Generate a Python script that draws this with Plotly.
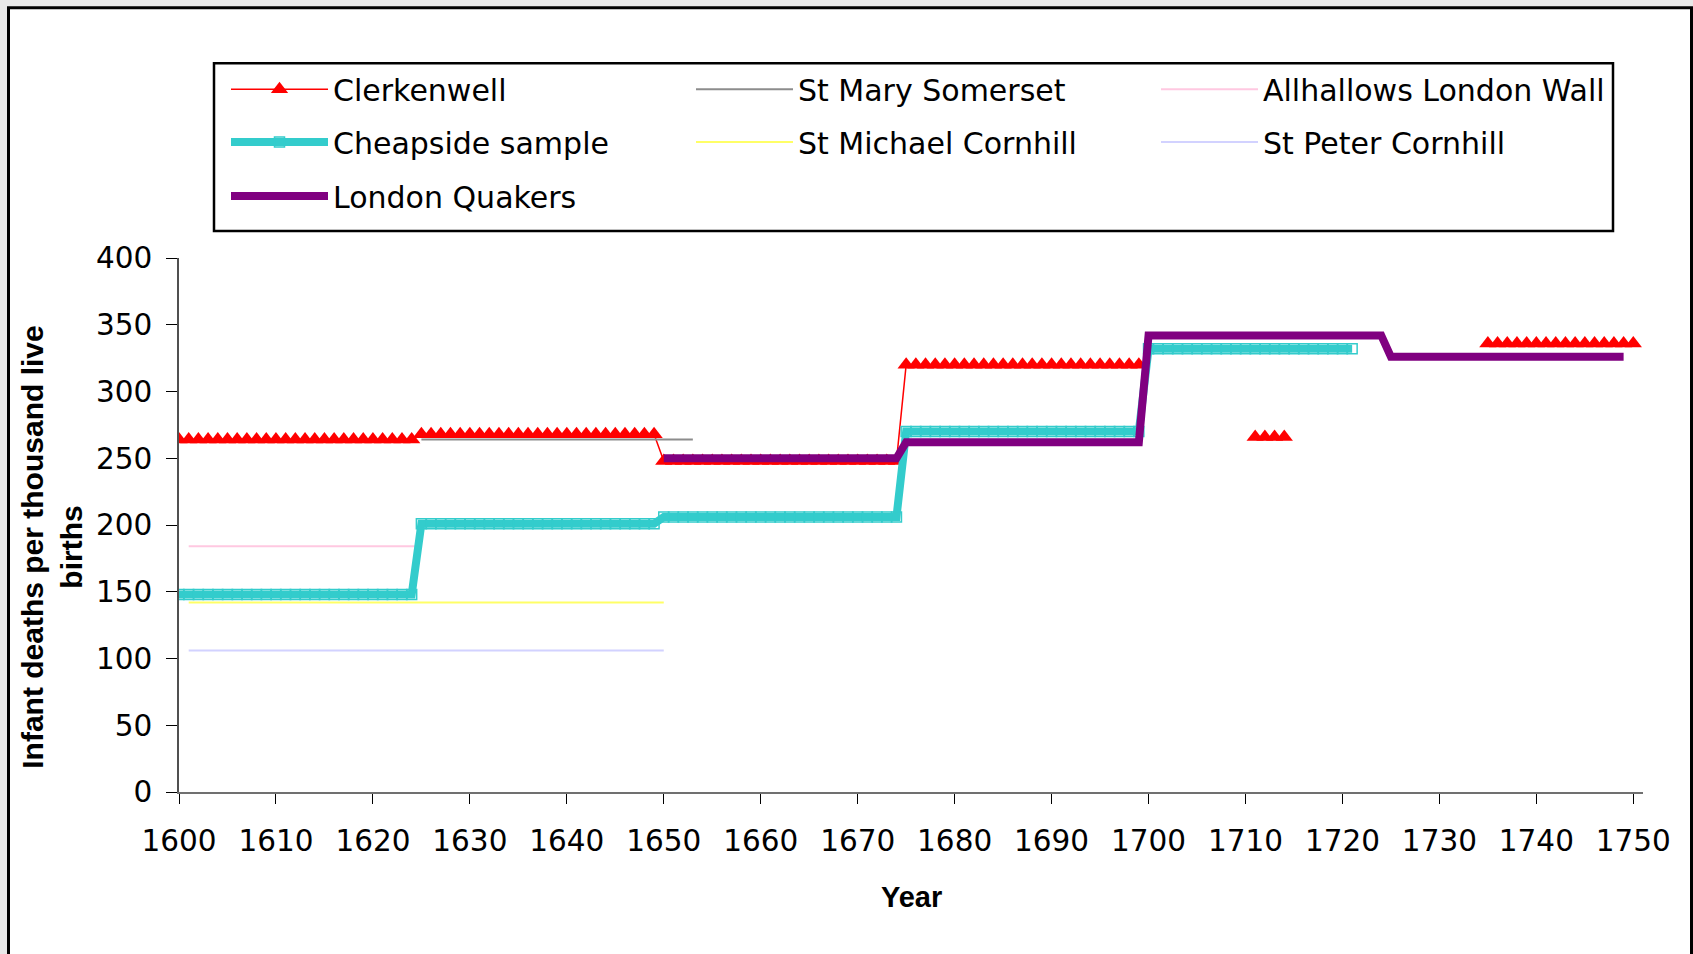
import plotly.graph_objects as go

# ---------------- data ----------------
clerkenwell_years = list(range(1600, 1751))
clerkenwell = [
    264, 264, 264, 264, 264, 264, 264, 264, 264, 264,   # 1600-1609
    264, 264, 264, 264, 264, 264, 264, 264, 264, 264,   # 1610-1619
    264, 264, 264, 264, 264, 268, 268, 268, 268, 268,   # 1620-1629
    268, 268, 268, 268, 268, 268, 268, 268, 268, 268,   # 1630-1639
    268, 268, 268, 268, 268, 268, 268, 268, 268, 268,   # 1640-1649
    248, 248, 248, 248, 248, 248, 248, 248, 248, 248,   # 1650-1659
    248, 248, 248, 248, 248, 248, 248, 248, 248, 248,   # 1660-1669
    248, 248, 248, 248, 248, 320, 320, 320, 320, 320,   # 1670-1679
    320, 320, 320, 320, 320, 320, 320, 320, 320, 320,   # 1680-1689
    320, 320, 320, 320, 320, 320, 320, 320, 320, 320,   # 1690-1699
    None, None, None, None, None, None, None, None, None, None,  # 1700-1709
    None, 266, 266, 266, 266, None, None, None, None, None,      # 1710-1719
    None, None, None, None, None, None, None, None, None, None,  # 1720-1729
    None, None, None, None, None, 336, 336, 336, 336, 336,       # 1730-1739
    336, 336, 336, 336, 336, 336, 336, 336, 336, 336,            # 1740-1749
    336,                                                          # 1750
]

cheapside_years = list(range(1600, 1722))
cheapside = [
    148, 148, 148, 148, 148, 148, 148, 148, 148, 148,   # 1600-1609
    148, 148, 148, 148, 148, 148, 148, 148, 148, 148,   # 1610-1619
    148, 148, 148, 148, 148, 201, 201, 201, 201, 201,   # 1620-1629
    201, 201, 201, 201, 201, 201, 201, 201, 201, 201,   # 1630-1639
    201, 201, 201, 201, 201, 201, 201, 201, 201, 201,   # 1640-1649
    206, 206, 206, 206, 206, 206, 206, 206, 206, 206,   # 1650-1659
    206, 206, 206, 206, 206, 206, 206, 206, 206, 206,   # 1660-1669
    206, 206, 206, 206, 206, 270, 270, 270, 270, 270,   # 1670-1679
    270, 270, 270, 270, 270, 270, 270, 270, 270, 270,   # 1680-1689
    270, 270, 270, 270, 270, 270, 270, 270, 270, 270,   # 1690-1699
    332, 332, 332, 332, 332, 332, 332, 332, 332, 332,   # 1700-1709
    332, 332, 332, 332, 332, 332, 332, 332, 332, 332,   # 1710-1719
    332, 332,                                           # 1720-1721
]

quakers_years = list(range(1650, 1750))
quakers = [
    250, 250, 250, 250, 250, 250, 250, 250, 250, 250,   # 1650-1659
    250, 250, 250, 250, 250, 250, 250, 250, 250, 250,   # 1660-1669
    250, 250, 250, 250, 250, 262, 262, 262, 262, 262,   # 1670-1679
    262, 262, 262, 262, 262, 262, 262, 262, 262, 262,   # 1680-1689
    262, 262, 262, 262, 262, 262, 262, 262, 262, 262,   # 1690-1699
    342, 342, 342, 342, 342, 342, 342, 342, 342, 342,   # 1700-1709
    342, 342, 342, 342, 342, 342, 342, 342, 342, 342,   # 1710-1719
    342, 342, 342, 342, 342, 326, 326, 326, 326, 326,   # 1720-1729
    326, 326, 326, 326, 326, 326, 326, 326, 326, 326,   # 1730-1739
    326, 326, 326, 326, 326, 326, 326, 326, 326, 326,   # 1740-1749
]

st_mary_years = [1625, 1653]
st_mary = [264, 264]
allhallows_years = [1601, 1625]
allhallows = [184, 184]
st_michael_years = [1601, 1650]
st_michael = [142, 142]
st_peter_years = [1601, 1650]
st_peter = [106, 106]

x_ticks = [1600, 1610, 1620, 1630, 1640, 1650, 1660, 1670, 1680, 1690,
           1700, 1710, 1720, 1730, 1740, 1750]
y_ticks = [0, 50, 100, 150, 200, 250, 300, 350, 400]

# ---------------- geometry (pixels) ----------------
W, H = 1693, 954
L, R, T, B = 179, 1643, 258, 792.5
PW, PH = R - L, B - T


def px(x):
    return (x - L) / PW


def py(y):
    return (B - y) / PH


TICK_FONT = dict(family="DejaVu Sans", size=29.5, color="black")
LEG_FONT = dict(family="DejaVu Sans", size=30, color="black")

fig = go.Figure()

# row 1
fig.add_trace(go.Scatter(
    x=clerkenwell_years, y=clerkenwell, name="Clerkenwell", mode="lines+markers",
    line=dict(color="#FF0000", width=1.5), connectgaps=False,
    marker=dict(symbol="triangle-up", size=15, color="#FF0000"),
    legend="legend"))
fig.add_trace(go.Scatter(
    x=st_mary_years, y=st_mary, name="St Mary Somerset", mode="lines",
    line=dict(color="#8C8C8C", width=2), legend="legend"))
fig.add_trace(go.Scatter(
    x=allhallows_years, y=allhallows, name="Allhallows London Wall", mode="lines",
    line=dict(color="#FFC8E1", width=2), legend="legend"))
# row 2
fig.add_trace(go.Scatter(
    x=cheapside_years, y=cheapside, name="Cheapside sample", mode="lines+markers",
    line=dict(color="#33CCCC", width=8),
    marker=dict(symbol="square-open", size=10, color="#33CCCC", line=dict(width=1.5)),
    legend="legend2"))
fig.add_trace(go.Scatter(
    x=st_michael_years, y=st_michael, name="St Michael Cornhill", mode="lines",
    line=dict(color="#FFFF66", width=2), legend="legend2"))
fig.add_trace(go.Scatter(
    x=st_peter_years, y=st_peter, name="St Peter Cornhill", mode="lines",
    line=dict(color="#D2D2FF", width=2), legend="legend2"))
# row 3
fig.add_trace(go.Scatter(
    x=quakers_years, y=quakers, name="London Quakers", mode="lines",
    line=dict(color="#800080", width=8), legend="legend3"))


def leg(y_pix):
    return dict(orientation="h", x=px(226), xanchor="left", y=py(y_pix), yanchor="middle",
                entrywidth=353, entrywidthmode="pixels", itemwidth=97,
                font=LEG_FONT, bgcolor="rgba(0,0,0,0)", borderwidth=0,
                traceorder="normal", itemsizing="trace")


fig.update_layout(
    width=W, height=H,
    margin=dict(l=L, r=W - R, t=T, b=H - B, pad=0),
    paper_bgcolor="#E8E8E8", plot_bgcolor="white",
    showlegend=True,
    legend=leg(89), legend2=leg(142), legend3=leg(196),
    xaxis=dict(range=[1600, 1751], tickvals=x_ticks, ticktext=[str(v) for v in x_ticks],
               showgrid=False, zeroline=False, showline=True, linecolor="#707070", linewidth=2,
               ticks="outside", ticklen=10, tickwidth=1, tickcolor="black",
               tickfont=TICK_FONT, ticklabelstandoff=12),
    yaxis=dict(range=[0, 400], tickvals=y_ticks,
               showgrid=False, zeroline=False, showline=True, linecolor="#505050", linewidth=1.5,
               ticks="outside", ticklen=11, tickwidth=1, tickcolor="black",
               tickfont=TICK_FONT, ticklabelstandoff=8),
    shapes=[
        # outer chart frame
        dict(type="rect", xref="paper", yref="paper",
             x0=px(8.5), x1=px(1691.5), y0=py(7.5), y1=py(990),
             line=dict(color="black", width=3), fillcolor="white", layer="below"),
        # legend box
        dict(type="rect", xref="paper", yref="paper",
             x0=px(214), x1=px(1613), y0=py(63), y1=py(231),
             line=dict(color="black", width=2.5), fillcolor="rgba(0,0,0,0)", layer="above"),
    ],
    annotations=[
        dict(text="<b>Year</b>", xref="paper", yref="paper", x=px(911), y=py(898),
             xanchor="center", yanchor="middle", showarrow=False,
             font=dict(family="Liberation Sans", size=29, color="black")),
        dict(text="<b>Infant deaths per thousand live<br>births</b>", xref="paper", yref="paper",
             x=px(52), y=py(548), xanchor="center", yanchor="middle", showarrow=False,
             textangle=-90,
             font=dict(family="Liberation Sans", size=30, color="black")),
    ],
)

fig.write_html("out.html", config={"displayModeBar": False},
               post_script="document.body.style.margin='0px';")
